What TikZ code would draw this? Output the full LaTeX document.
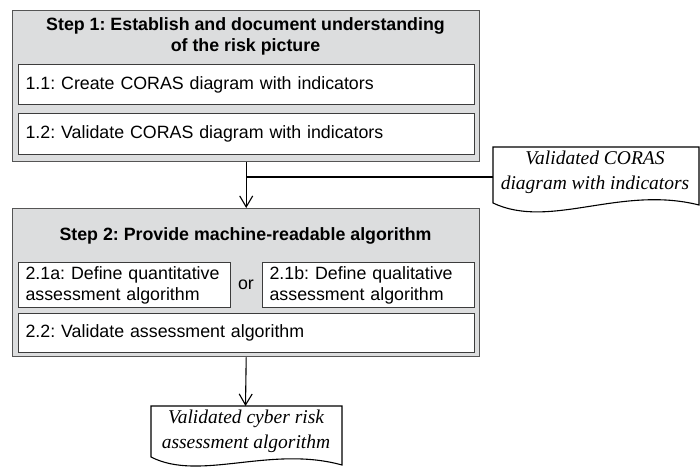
\documentclass[tikz,border=0pt]{standalone}
\usepackage{fontspec}
\setmainfont{Liberation Sans}
\newfontfamily\docfont{Liberation Serif}
\usetikzlibrary{arrows.meta}
\definecolor{stepfill}{RGB}{220,221,222}
\definecolor{stepline}{RGB}{85,85,85}
\definecolor{innerline}{RGB}{60,60,60}
\frenchspacing
\begin{document}
\frenchspacing
\begin{tikzpicture}[x=1pt,y=-1pt,
  stepbox/.style={draw=stepline, line width=1.4pt, fill=stepfill, anchor=north west, inner sep=0pt},
  innerbox/.style={draw=innerline, line width=1.1pt, fill=white, anchor=north west, inner xsep=7pt, inner ysep=0pt, align=left,
    font=\fontsize{17.8}{21}\selectfont},
  title/.style={font=\fontsize{17.8}{21}\selectfont\bfseries, align=center},
  doctext/.style={font=\fontsize{19.5}{25}\selectfont\docfont\itshape, align=center, inner sep=0pt},
  docshape/.style={draw=black, line width=1.1pt, fill=white},
  conn/.style={draw=black, line width=1.1pt},
  arr/.style={conn, -{Straight Barb[length=11pt,width=13pt,line width=1.1pt]}}]
\useasboundingbox (0,0) rectangle (700,471);
% Step 1
\node[stepbox, minimum width=467pt, minimum height=151pt] (s1) at (12,10) {};
\node[title] (t1) at (245.5,36) {Step 1: Establish and document understanding\\of the risk picture};
\node[innerbox, text width=442pt, minimum height=40pt] (b11) at (18,64) {1.1: Create CORAS diagram with indicators};
\node[innerbox, text width=442pt, minimum height=41pt] (b12) at (18,113) {1.2: Validate CORAS diagram with indicators};
% Step 2
\node[stepbox, minimum width=467pt, minimum height=148pt] (s2) at (12,208) {};
\node[title] (t2) at (245.5,236) {Step 2: Provide machine-readable algorithm};
\node[innerbox, text width=198pt, minimum height=45pt] (b21a) at (18,262) {2.1a: Define quantitative\\assessment algorithm};
\node[font=\fontsize{17.8}{21}\selectfont] (or) at (246,285) {or};
\node[innerbox, text width=198pt, minimum height=45pt] (b21b) at (262,262) {2.1b: Define qualitative\\assessment algorithm};
\node[innerbox, text width=442pt, minimum height=39pt] (b22) at (18,313) {2.2: Validate assessment algorithm};
% Document 1
\draw[docshape] (493,147) -- (699,147) -- (699,205) .. controls (620,185) and (550,230) .. (493,203) -- cycle;
\node[doctext] (d1) at (595,172) {Validated CORAS\\diagram with indicators};
\coordinate (d1w) at (493,177);
% Document 2
\draw[docshape] (151,406) -- (342,406) -- (342,465) .. controls (270,445) and (200,482) .. (151,457) -- cycle;
\node[doctext] (d2) at (246,431) {Validated cyber risk\\assessment algorithm};
\coordinate (d2n) at (245.5,406);
% Connectors
\draw[arr] (s1.south) -- (s2.north);
\draw[conn] (d1w) -- (d1w -| s1.south);
\draw[arr] (s2.south) -- (d2n);
\end{tikzpicture}
\end{document}
